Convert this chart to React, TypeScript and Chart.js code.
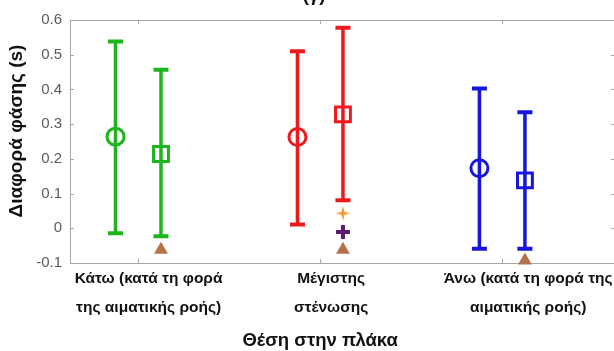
import React, { useEffect, useRef } from "react";
import { Chart, registerables } from "chart.js";
Chart.register(...registerables);

const categories: string[][] = [
  ["Κάτω (κατά τη φορά", "της αιματικής ροής)"],
  ["Μέγιστης", "στένωσης"],
  ["Άνω (κατά τη φορά της", "αιματικής ροής)"],
];
const categoryPositions = [1, 2, 3];
const groupOffset = 0.125;
const groupColors = ["#1EB41E", "#EC1A1E", "#1515DD"];

const circleMean = [0.264, 0.263, 0.173];
const circleUpper = [0.538, 0.51, 0.403];
const circleLower = [-0.014, 0.011, -0.059];

const squareMean = [0.214, 0.328, 0.138];
const squareUpper = [0.457, 0.578, 0.334];
const squareLower = [-0.023, 0.081, -0.059];

const triangleValues = [-0.062, -0.062, -0.093];
const starValues = [0.043];
const starCategory = [2];
const plusValues = [-0.011];
const plusCategory = [2];

const yMin = -0.1;
const yMax = 0.6;
const yStep = 0.1;

const yTitle = "Διαφορά φάσης (s)";
const xTitle = "Θέση στην πλάκα";
const panelTitle = "(γ)";

const FONT = "'Liberation Sans', Arial, Helvetica, sans-serif";
const AXIS_COLOR = "#A6A6A6";
// horizontal shift of each category label relative to its tick (axis units)
const LABEL_SHIFT = [0.057, 0.06, 0.143];

function makeStar(color: string) {
  const c = document.createElement("canvas");
  c.width = 16;
  c.height = 16;
  const g = c.getContext("2d")!;
  g.fillStyle = color;
  g.beginPath();
  g.moveTo(8, 0.5);
  g.lineTo(9.4, 6.6);
  g.lineTo(15.5, 8);
  g.lineTo(9.4, 9.4);
  g.lineTo(8, 15.5);
  g.lineTo(6.6, 9.4);
  g.lineTo(0.5, 8);
  g.lineTo(6.6, 6.6);
  g.closePath();
  g.fill();
  return c;
}

const errorBarPlugin = {
  id: "errorBars",
  beforeDatasetsDraw(chart: any) {
    const { ctx, chartArea, scales } = chart;
    const xs = scales.x;
    const ys = scales.y;
    ctx.save();
    ctx.strokeStyle = AXIS_COLOR;
    ctx.lineWidth = 1;
    ctx.strokeRect(chartArea.left + 0.5, chartArea.top + 0.5, chartArea.right - chartArea.left, chartArea.bottom - chartArea.top);
    ctx.beginPath();
    categoryPositions.forEach((v) => {
      const px = Math.round(xs.getPixelForValue(v)) + 0.5;
      ctx.moveTo(px, chartArea.bottom);
      ctx.lineTo(px, chartArea.bottom - 4);
      ctx.moveTo(px, chartArea.top);
      ctx.lineTo(px, chartArea.top + 4);
    });
    for (let v = yMin; v <= yMax + 1e-9; v += yStep) {
      const py = Math.round(ys.getPixelForValue(v)) + 0.5;
      ctx.moveTo(chartArea.left, py);
      ctx.lineTo(chartArea.left + 4, py);
      ctx.moveTo(chartArea.right, py);
      ctx.lineTo(chartArea.right - 4, py);
    }
    ctx.stroke();
    ctx.restore();

    const drawBar = (x: number, lo: number, hi: number, color: string) => {
      const px = xs.getPixelForValue(x);
      const pLo = ys.getPixelForValue(lo);
      const pHi = ys.getPixelForValue(hi);
      ctx.save();
      ctx.strokeStyle = color;
      ctx.lineWidth = 3.5;
      ctx.beginPath();
      ctx.moveTo(px, pLo);
      ctx.lineTo(px, pHi);
      ctx.stroke();
      ctx.lineWidth = 4;
      ctx.beginPath();
      ctx.moveTo(px - 7.5, pLo);
      ctx.lineTo(px + 7.5, pLo);
      ctx.moveTo(px - 7.5, pHi);
      ctx.lineTo(px + 7.5, pHi);
      ctx.stroke();
      ctx.restore();
    };
    categoryPositions.forEach((c, i) => {
      drawBar(c - groupOffset, circleLower[i], circleUpper[i], groupColors[i]);
      drawBar(c + groupOffset, squareLower[i], squareUpper[i], groupColors[i]);
    });
  },
  afterDraw(chart: any) {
    const { ctx, scales } = chart;
    ctx.save();
    ctx.fillStyle = "#111";
    ctx.textAlign = "center";
    ctx.textBaseline = "middle";
    ctx.font = `bold 18.5px ${FONT}`;
    ctx.fillText(xTitle, scales.x.getPixelForValue(2), 341);
    ctx.fillText(panelTitle, 314, -4);
    ctx.font = `bold 19px ${FONT}`;
    ctx.translate(17, 131);
    ctx.rotate(-Math.PI / 2);
    ctx.fillText(yTitle, 0, 0);
    ctx.restore();
  },
};

export default function App() {
  const ref = useRef<HTMLCanvasElement | null>(null);
  useEffect(() => {
    const star = makeStar("#F29A2E");
    const labelValues = categoryPositions.map((c, i) => c + LABEL_SHIFT[i]);
    const chart = new Chart(ref.current!, {
      type: "scatter",
      data: {
        datasets: [
          {
            label: "circle",
            data: categoryPositions.map((c, i) => ({ x: c - groupOffset, y: circleMean[i] })),
            pointStyle: "circle",
            pointRadius: 8.5,
            pointBorderWidth: 3,
            pointBorderColor: groupColors,
            pointBackgroundColor: "rgba(0,0,0,0)",
            clip: false,
          } as any,
          {
            label: "square",
            data: categoryPositions.map((c, i) => ({ x: c + groupOffset, y: squareMean[i] })),
            pointStyle: "rect",
            pointRadius: 10.5,
            pointBorderWidth: 3,
            pointBorderColor: groupColors,
            pointBackgroundColor: "rgba(0,0,0,0)",
            clip: false,
          } as any,
          {
            label: "triangle",
            data: categoryPositions.map((c, i) => ({ x: c + groupOffset, y: triangleValues[i] })),
            pointStyle: "triangle",
            pointRadius: 8,
            pointBorderWidth: 0,
            pointBackgroundColor: "#B4714A",
            pointBorderColor: "#B4714A",
            clip: false,
          } as any,
          {
            label: "star",
            data: starCategory.map((c, i) => ({ x: c + groupOffset, y: starValues[i] })),
            pointStyle: star,
            pointRadius: 8,
            clip: false,
          } as any,
          {
            label: "plus",
            data: plusCategory.map((c, i) => ({ x: c + groupOffset, y: plusValues[i] })),
            pointStyle: "cross",
            pointRadius: 7,
            pointBorderWidth: 4,
            pointBorderColor: "#5B1C6E",
            clip: false,
          } as any,
        ],
      },
      options: {
        responsive: false,
        animation: false,
        layout: { autoPadding: false, padding: { top: 20, right: 3, left: 0, bottom: 0 } },
        plugins: { legend: { display: false }, tooltip: { enabled: false }, title: { display: false } },
        scales: {
          x: {
            type: "linear",
            min: 0.625,
            max: 3.62,
            grid: { display: false, drawTicks: false },
            border: { display: false },
            afterBuildTicks: (s: any) => {
              s.ticks = labelValues.map((v) => ({ value: v }));
            },
            afterFit: (s: any) => {
              s.height = 88;
              s.paddingLeft = 0;
              s.paddingRight = 0;
            },
            ticks: {
              autoSkip: false,
              maxRotation: 0,
              minRotation: 0,
              padding: 1,
              color: "#111",
              font: { family: FONT, size: 15.5, weight: "bold", lineHeight: "29px" },
              callback: (v: any) => {
                const i = labelValues.findIndex((l) => Math.abs(l - Number(v)) < 1e-6);
                return i >= 0 ? categories[i] : "";
              },
            },
          },
          y: {
            type: "linear",
            min: yMin,
            max: yMax,
            grid: { display: false, drawTicks: false },
            border: { display: false },
            afterFit: (s: any) => {
              s.width = 70;
              s.paddingTop = 0;
              s.paddingBottom = 0;
            },
            ticks: {
              stepSize: yStep,
              padding: 8,
              color: "#5A5A5A",
              font: { family: FONT, size: 15 },
              callback: (v: any) => String(Math.round(Number(v) * 10) / 10),
            },
          },
        },
      },
      plugins: [errorBarPlugin],
    } as any);
    return () => chart.destroy();
  }, []);
  return (
    <div style={{ position: "absolute", left: 0, top: 0, width: 614, height: 351, overflow: "hidden", background: "#fff" }}>
      <canvas ref={ref} width={618} height={351} style={{ width: 618, height: 351, display: "block" }} />
    </div>
  );
}
